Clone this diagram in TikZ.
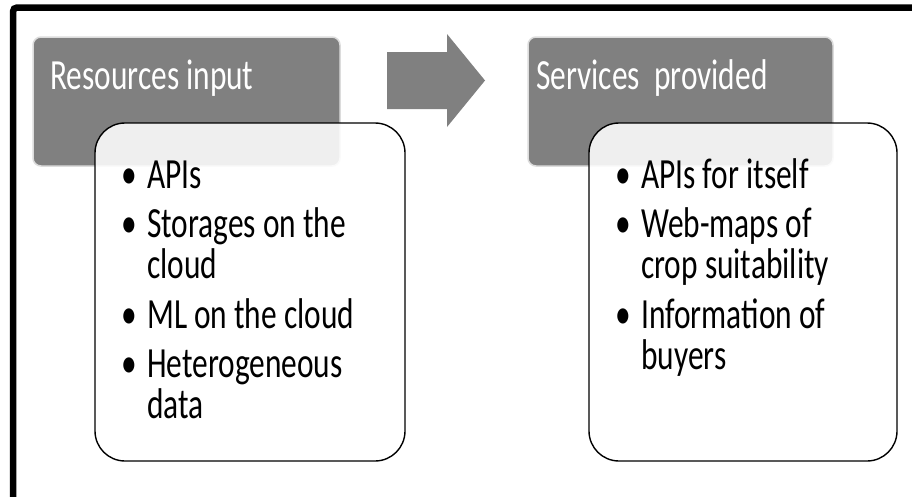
\documentclass[tikz,border=0pt]{standalone}
\usepackage{fontspec}
\setmainfont{Carlito}[FakeStretch=0.73]

\definecolor{headgray}{HTML}{808080}
\definecolor{edgegray}{HTML}{DCDCDC}

% one bullet entry with a hanging indent
\newcommand\listitem[1]{\par\hangindent=26pt\hangafter=1\noindent\makebox[26pt][l]{•}#1}
% a list whose reference point is the first baseline
\newcommand\itemlist[1]{\parbox[t]{300pt}{\fontsize{43}{41}\selectfont\parskip=8.5pt #1}}

\tikzset{
  headbox/.style={fill=headgray, draw=edgegray, line width=1.5pt, rounded corners=8pt},
  listbox/.style={fill=white, fill opacity=0.88, draw=black, line width=1.4pt, rounded corners=30pt},
  headtext/.style={anchor=base west, inner sep=0pt, text=white, font=\fontsize{43}{41}\selectfont},
  listtext/.style={anchor=base west, inner sep=0pt, text=black},
  flowarrow/.style={fill=headgray, draw=none}
}

\begin{document}
\begin{tikzpicture}[x=1pt, y=-1pt]
  \useasboundingbox (0,0) rectangle (912,496);
  \clip (0,0) rectangle (912,496);
  \fill[white] (0,0) rectangle (912,496);

  % outer frame, running off the right and bottom edges
  \draw[line width=6.5pt, rounded corners=4pt] (13,7.5) rectangle (1000,600);

  % headers
  \draw[headbox] (33,37) rectangle (340,166);
  \draw[headbox] (528,37) rectangle (833,166);
  \node[headtext] (hin) at (50,89) {Resources input};
  \node[headtext] (hout) at (536,89) {Services\ \ provided};

  % block arrow between the two stages
  \fill[flowarrow] (387,52) -- (447,52) -- (447,34) -- (485,80.5)
                   -- (447,127) -- (447,109) -- (387,109) -- cycle;

  % list panels
  \draw[listbox] (95,123) rectangle (405,461);
  \draw[listbox] (589,123) rectangle (897,461);

  \node[listtext] (lin) at (121,188) {\itemlist{%
    \listitem{APIs}
    \listitem{Storages on the\newline cloud}
    \listitem{ML on the cloud}
    \listitem{Heterogeneous\newline data}}};

  \node[listtext] (lout) at (615,188) {\itemlist{%
    \listitem{APIs for itself}
    \listitem{Web-maps of\newline crop suitability}
    \listitem{Information of\newline buyers}}};
\end{tikzpicture}
\end{document}
